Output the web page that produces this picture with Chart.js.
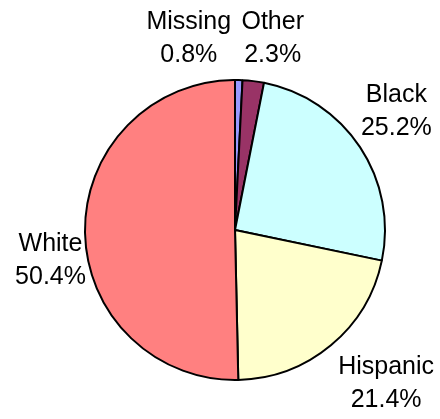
<!DOCTYPE html>
<html>
<head>
<meta charset="utf-8">
<script src="https://cdn.jsdelivr.net/npm/chart.js@4/dist/chart.umd.min.js"></script>
<style>
  html, body { margin: 0; padding: 0; background: #ffffff; }
  #wrap { width: 440px; height: 419px; }
</style>
</head>
<body>
<div id="wrap"><canvas id="c" width="440" height="419"></canvas></div>
<script>
// Share of records by race/ethnicity (percent)
const categories = ['Missing', 'Other', 'Black', 'Hispanic', 'White'];
const shares = [0.8, 2.3, 25.2, 21.4, 50.4];
const sliceColors = ['#9999FF', '#993366', '#CCFFFF', '#FFFFCC', '#FF8080'];

// Outside labels: category on one line, percentage underneath.
// Placed along each slice's mid-angle, with small per-label nudges.
const outsideLabels = {
  id: 'outsideLabels',
  afterDatasetsDraw(chart, args, opts) {
    const ctx = chart.ctx;
    const meta = chart.getDatasetMeta(0);
    const lineGap = opts.lineGap;
    ctx.save();
    ctx.font = opts.font;
    ctx.fillStyle = opts.color;
    ctx.textAlign = 'center';
    ctx.textBaseline = 'middle';
    meta.data.forEach((arc, i) => {
      const p = arc.getProps(['x', 'y', 'startAngle', 'endAngle', 'outerRadius'], true);
      const mid = (p.startAngle + p.endAngle) / 2;
      const r = p.outerRadius + opts.distance;
      const nudge = opts.nudges[i] || [0, 0];
      const cx = p.x + Math.cos(mid) * r + nudge[0];
      const cy = p.y + Math.sin(mid) * r + nudge[1];
      const value = chart.data.datasets[0].data[i];
      ctx.fillText(chart.data.labels[i], cx, cy - lineGap / 2);
      ctx.fillText(value.toFixed(1) + '%', cx, cy + lineGap / 2);
    });
    ctx.restore();
  }
};

new Chart(document.getElementById('c'), {
  type: 'pie',
  data: {
    labels: categories,
    datasets: [{
      data: shares,
      backgroundColor: sliceColors,
      borderColor: '#000000',
      borderWidth: 2
    }]
  },
  options: {
    responsive: false,
    animation: false,
    devicePixelRatio: 1,
    layout: { padding: { left: 84, right: 54, top: 79, bottom: 38 } },
    plugins: {
      legend: { display: false },
      tooltip: { enabled: false },
      outsideLabels: {
        font: '25px "Liberation Sans", Arial, sans-serif',
        color: '#000000',
        lineGap: 33,
        distance: 40,
        nudges: [[-51, -1], [14.5, -2.4], [3, -13], [29.6, 8], [5.5, 29]]
      }
    }
  },
  plugins: [outsideLabels]
});
</script>
</body>
</html>
